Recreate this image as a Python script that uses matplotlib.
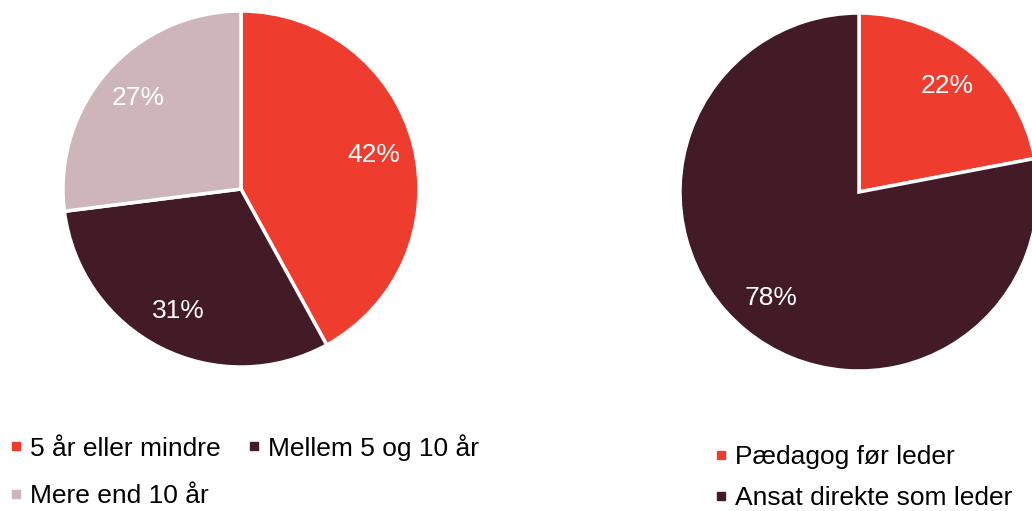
import matplotlib
matplotlib.use("Agg")
from matplotlib import pyplot as plt
from matplotlib.lines import Line2D

plt.rcParams['font.family'] = ['Liberation Sans', 'DejaVu Sans']

# venstre diagram: anciennitet som leder
labels_left = ['5 år eller mindre', 'Mellem 5 og 10 år', 'Mere end 10 år']
values_left = [42, 31, 27]
# højre diagram: vej ind i lederjobbet
labels_right = ['Pædagog før leder', 'Ansat direkte som leder']
values_right = [22, 78]

red = '#EE3D2F'
dark = '#421B26'
light = '#CDB5B9'
colors_left = [red, dark, light]
colors_right = [red, dark]

W, H = 1032, 511
fig = plt.figure(figsize=(W / 100, H / 100), dpi=100)


def pie_axes(cx, cy, r):
    return fig.add_axes([(cx - r) / W, (H - cy - r) / H, 2 * r / W, 2 * r / H])


def draw_pie(ax, values, colors):
    ax.pie(values, colors=colors, startangle=90, counterclock=False,
           autopct='%1.0f%%', pctdistance=0.77,
           wedgeprops=dict(edgecolor='white', linewidth=2.5),
           textprops=dict(color='white', fontsize=19))
    ax.set_xlim(-1, 1)
    ax.set_ylim(-1, 1)
    ax.axis('off')


ax1 = pie_axes(241, 189, 178)
draw_pie(ax1, values_left, colors_left)
ax2 = pie_axes(859, 192, 179)
draw_pie(ax2, values_right, colors_right)


def handles(colors, labels):
    return [Line2D([], [], marker='s', linestyle='', markersize=6,
                   markerfacecolor=c, markeredgecolor=c, label=l)
            for c, l in zip(colors, labels)]


h1 = handles(colors_left, labels_left)
# raekkefolge saa de to forste staar paa samme linje
fig.legend(handles=[h1[0], h1[2], h1[1]], ncol=2, loc='upper left',
           bbox_to_anchor=(9 / W, 1 - 434 / H), frameon=False, fontsize=19,
           handlelength=0.5, handletextpad=0.3, labelspacing=0.88,
           columnspacing=1.0, borderpad=0, borderaxespad=0)

fig.legend(handles=handles(colors_right, labels_right), ncol=1, loc='upper left',
           bbox_to_anchor=(714 / W, 1 - 445 / H), frameon=False, fontsize=19,
           handlelength=0.5, handletextpad=0.3, labelspacing=0.64,
           borderpad=0, borderaxespad=0)

fig.savefig('out.png', dpi=100)
